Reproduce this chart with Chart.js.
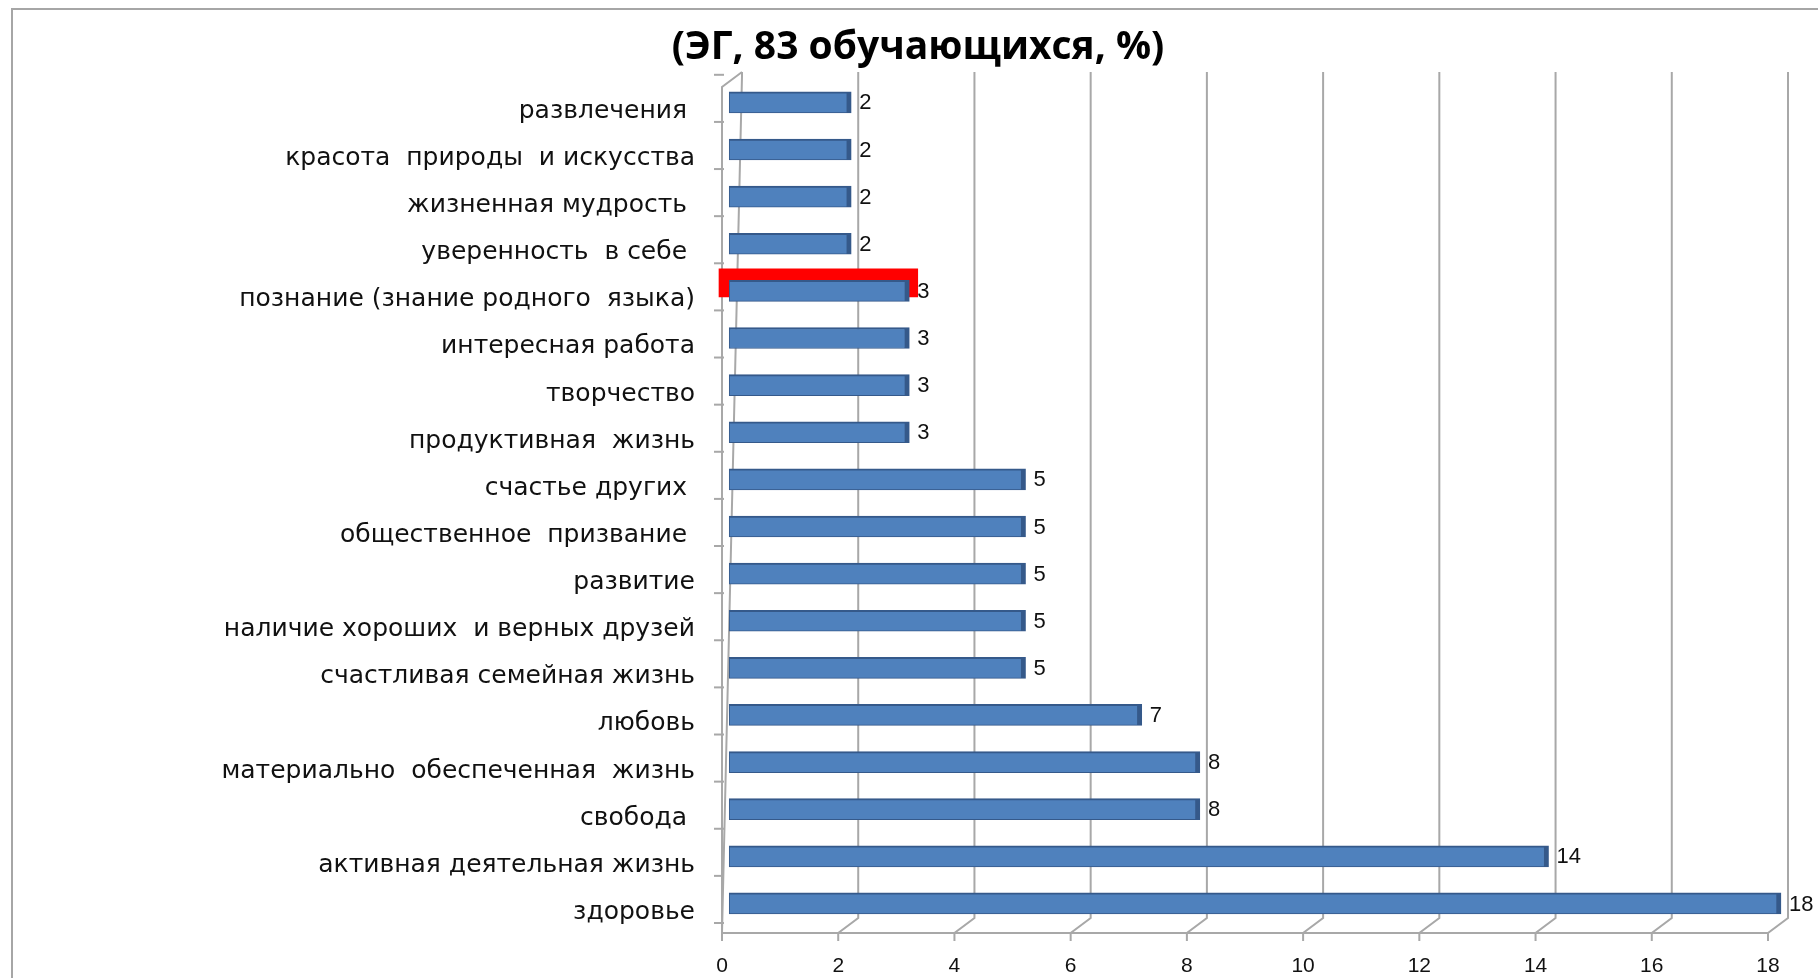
<!DOCTYPE html>
<html>
<head>
<meta charset="utf-8">
<script src="https://cdn.jsdelivr.net/npm/chart.js@4.4.1/dist/chart.umd.min.js"></script>
<style>
  html, body { margin: 0; padding: 0; background: #fff; }
  #wrap { position: relative; width: 1818px; height: 978px; }
  #frame { position: absolute; left: 11px; top: 8px; right: -5px; bottom: -5px; border-top: 2px solid #a6a6a6; border-left: 2px solid #a6a6a6; }
  canvas { position: absolute; left: 0; top: 0; }
</style>
</head>
<body>
<div id="wrap">
  <div id="frame"></div>
  <canvas id="chart" width="1818" height="978"></canvas>
</div>
<script>
const categories = [
  'развлечения ',
  'красота  природы  и искусства',
  'жизненная мудрость ',
  'уверенность  в себе ',
  'познание (знание родного  языка)',
  'интересная работа',
  'творчество',
  'продуктивная  жизнь',
  'счастье других ',
  'общественное  призвание ',
  'развитие',
  'наличие хороших  и верных друзей',
  'счастливая семейная жизнь',
  'любовь',
  'материально  обеспеченная  жизнь',
  'свобода ',
  'активная деятельная жизнь',
  'здоровье'
];
const values = [2, 2, 2, 2, 3, 3, 3, 3, 5, 5, 5, 5, 5, 7, 8, 8, 14, 18];
// red marker laid over the "познание" bar in the picture
const highlight = [null, null, null, null, [0, 3.42], null, null, null, null, null, null, null, null, null, null, null, null, null];
const xTicks = [0, 2, 4, 6, 8, 10, 12, 14, 16, 18];

const DX = 20, DY = 15; // depth of the 3d walls
const SHIFT = 9;        // bars sit a bit above their labels
const gridColor = '#a8a8a8';

const wallsPlugin = {
  id: 'walls',
  beforeDatasetsDraw(chart) {
    const ctx = chart.ctx;
    const x = chart.scales.x, y = chart.scales.y;
    const front = 933, back = front - DY, top = 72;
    ctx.save();
    ctx.strokeStyle = gridColor;
    ctx.lineWidth = 2;
    xTicks.forEach(v => {
      const px = x.getPixelForValue(v);
      ctx.beginPath();
      if (v > 0) {
        ctx.moveTo(px + DX, top);
        ctx.lineTo(px + DX, back);
      } else {
        ctx.moveTo(px + DX, top);
        ctx.lineTo(px + DX, top + 4);
      }
      ctx.lineTo(px, front);
      ctx.lineTo(px, front + 8);
      ctx.stroke();
    });
    // left wall
    const x0 = x.getPixelForValue(0);
    ctx.beginPath();
    ctx.moveTo(x0 + DX, top);
    ctx.lineTo(x0, top + DY);
    ctx.lineTo(x0, front);
    ctx.lineTo(x.getPixelForValue(18), front);
    ctx.stroke();
    // category ticks on the left wall
    const step = y.getPixelForValue(1) - y.getPixelForValue(0);
    for (let i = 0; i <= categories.length; i++) {
      const py = y.getPixelForValue(0) - step / 2 + i * step - SHIFT - 4;
      ctx.beginPath();
      ctx.moveTo(x0 - 8, py);
      ctx.lineTo(x0 + 2, py);
      ctx.stroke();
    }
    ctx.restore();
  },
  beforeDatasetDraw(chart, args) {
    const ctx = chart.ctx;
    ctx.save();
    if (args.index === 0) ctx.translate(13, -SHIFT);
    else ctx.translate(-3, -8 - SHIFT);
  },
  afterDatasetDraw(chart) {
    chart.ctx.restore();
  },
  afterDatasetsDraw(chart) {
    const ctx = chart.ctx;
    const meta = chart.getDatasetMeta(0);
    ctx.save();
    ctx.font = '22px "Liberation Sans", Arial, sans-serif';
    ctx.fillStyle = '#111';
    ctx.textAlign = 'left';
    ctx.textBaseline = 'middle';
    meta.data.forEach((bar, i) => {
      ctx.fillText(String(values[i]), bar.x + 13 + 8, bar.y - SHIFT + 1);
    });
    ctx.restore();
  }
};

new Chart(document.getElementById('chart'), {
  type: 'bar',
  data: {
    labels: categories,
    datasets: [{
      label: 'values',
      data: values,
      base: -0.1,
      backgroundColor: '#4f81bd',
      borderColor: '#35598a',
      borderWidth: { top: 2, bottom: 1, left: 1, right: 5 },
      borderSkipped: false,
      barThickness: 21,
      grouped: false,
      clip: false
    }, {
      label: 'highlight',
      data: highlight,
      backgroundColor: '#ff0000',
      borderWidth: 0,
      barThickness: 28,
      grouped: false,
      clip: false
    }]
  },
  options: {
    indexAxis: 'y',
    responsive: false,
    animation: false,
    layout: { padding: { left: 68, right: 50, top: 0, bottom: 0 } },
    scales: {
      x: {
        min: 0,
        max: 18,
        afterFit: s => { s.height = 40; },
        afterBuildTicks: s => { s.ticks = xTicks.map(v => ({ value: v })); },
        grid: { display: false, drawTicks: false },
        border: { display: false },
        ticks: {
          padding: 18,
          color: '#111',
          font: { family: '"Liberation Sans", Arial, sans-serif', size: 21 }
        }
      },
      y: {
        afterFit: s => { s.width = 722 - 68; },
        grid: { display: false, drawTicks: false },
        border: { display: false },
        ticks: {
          padding: 27,
          color: '#111',
          autoSkip: false,
          font: { family: '"DejaVu Sans", Verdana, sans-serif', size: 25 }
        }
      }
    },
    plugins: {
      legend: { display: false },
      tooltip: { enabled: false },
      title: {
        display: true,
        text: '(ЭГ, 83 обучающихся, %)',
        color: '#000',
        padding: { top: 24, bottom: 17 },
        font: { family: '"Open Sans", "Liberation Sans", sans-serif', size: 39, weight: 'bold' }
      }
    }
  },
  plugins: [wallsPlugin]
});
</script>
</body>
</html>
